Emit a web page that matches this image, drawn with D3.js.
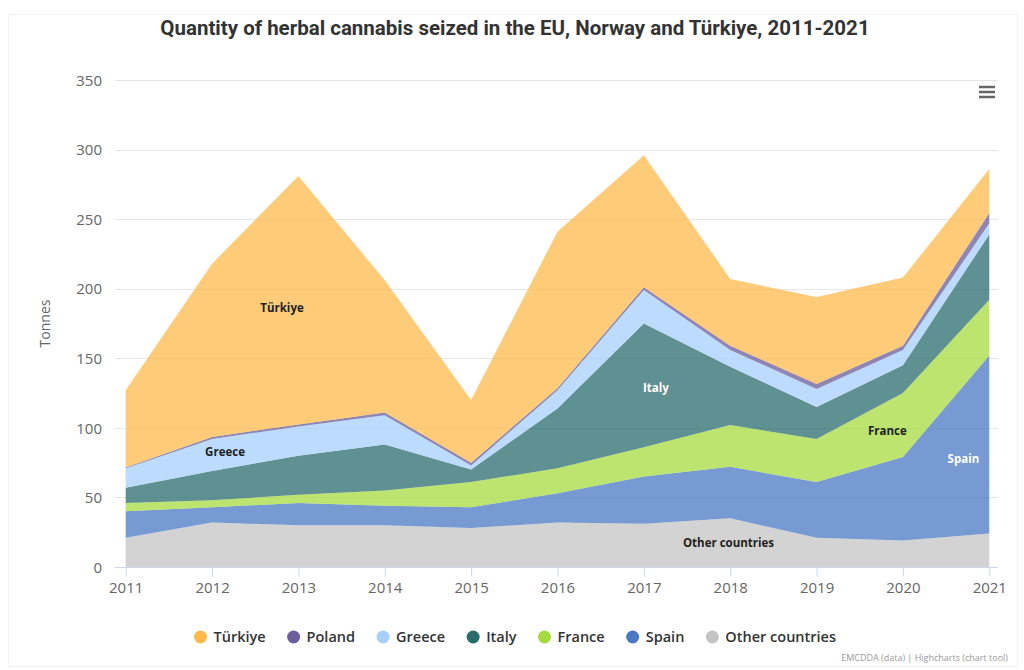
<!DOCTYPE html>
<html>
<head>
<meta charset="utf-8">
<script src="https://cdn.jsdelivr.net/npm/d3@7"></script>
<style>
  html, body { margin: 0; padding: 0; background: #fff; }
  svg { display: block; }
</style>
</head>
<body>
<svg id="chart" width="1024" height="670"></svg>
<script>
// ---- data ----
const years = [2011, 2012, 2013, 2014, 2015, 2016, 2017, 2018, 2019, 2020, 2021];
const turkiye = [55.5, 124.5, 178.5, 95, 45, 112.5, 95, 48, 62.5, 49, 31.5];
const poland  = [0.5, 1.5, 1.5, 2, 2, 1.5, 2, 3, 3.5, 3, 7.5];
const greece  = [14, 23, 21, 21, 3, 13, 24, 12, 13, 11, 8];
const italy   = [11, 21, 28, 33, 9, 43, 89, 42, 23, 20, 47];
const france  = [6, 5, 6, 11, 18, 18, 21, 30, 31, 46, 40];
const spain   = [19, 11, 16, 14, 15, 21, 34, 37, 40, 60, 128];
const other   = [21, 32, 30, 30, 28, 32, 31, 35, 21, 19, 24];

const seriesNames = ["Türkiye", "Poland", "Greece", "Italy", "France", "Spain", "Other countries"];
const seriesValues = [turkiye, poland, greece, italy, france, spain, other];
const seriesColors = ["#fdb94b", "#6a5e9c", "#a7cffb", "#2a6b6e", "#a6db3f", "#4a78c4", "#c4c4c4"];
const yTicks = [0, 50, 100, 150, 200, 250, 300, 350];

// in-chart series labels (year position, value position)
const labelNames  = ["Türkiye", "Greece", "Italy", "France", "Spain", "Other countries"];
const labelYears  = [2012.81, 2012.15, 2017.14, 2019.82, 2020.7, 2017.98];
const labelValues = [186, 82.5, 129, 98, 77.5, 17.5];
const labelColors = ["#222", "#222", "#fff", "#222", "#fff", "#222"];

const titleText = "Quantity of herbal cannabis seized in the EU, Norway and Türkiye, 2011-2021";
const creditsText = "EMCDDA (data) | Highcharts (chart tool)";

// ---- layout ----
const svg = d3.select("#chart");
const plotLeft = 115, plotRight = 998, plotTop = 80, plotBottom = 567;

const x = d3.scaleLinear().domain([2011, 2021]).range([125.7, 989.3]);
const y = d3.scaleLinear().domain([0, 350]).range([plotBottom, plotTop]);

// faint frame
svg.append("rect").attr("x", 8.5).attr("y", 14.5).attr("width", 1009).attr("height", 652)
  .attr("fill", "none").attr("stroke", "#f2f2f2");

// title
svg.append("text").attr("x", 515).attr("y", 35).attr("text-anchor", "middle")
  .attr("font-family", "Roboto, 'Liberation Sans', sans-serif").attr("font-weight", 700)
  .attr("font-size", 20.5).attr("fill", "#333").text(titleText);

// gridlines
svg.append("g").selectAll("line").data(yTicks).join("line")
  .attr("x1", plotLeft).attr("x2", plotRight)
  .attr("y1", d => Math.round(y(d)) + 0.5).attr("y2", d => Math.round(y(d)) + 0.5)
  .attr("stroke", "#e6e6e6").attr("stroke-width", 1);

// stacked areas
const table = years.map((yr, i) => {
  const row = { year: yr };
  seriesNames.forEach((n, k) => row[n] = seriesValues[k][i]);
  return row;
});
const stackKeys = seriesNames.slice().reverse(); // bottom to top
const stacked = d3.stack().keys(stackKeys)(table);
const area = d3.area().x(d => x(d.data.year)).y0(d => y(d[0])).y1(d => y(d[1]));
svg.append("g").selectAll("path").data(stacked).join("path")
  .attr("d", area)
  .attr("fill", d => seriesColors[seriesNames.indexOf(d.key)])
  .attr("fill-opacity", 0.75);

// y axis labels
const yAxis = d3.axisLeft(y).tickValues(yTicks).tickSize(0).tickPadding(0);
const yg = svg.append("g").attr("transform", `translate(${plotLeft - 13},0)`).call(yAxis);
yg.select(".domain").remove();
yg.selectAll("text").attr("font-family", "'Open Sans', sans-serif").attr("font-size", 15)
  .attr("fill", "#666").attr("dy", "0.35em");

// y axis title
svg.append("text").attr("transform", `translate(50,${(plotTop + plotBottom) / 2}) rotate(-90)`)
  .attr("text-anchor", "middle").attr("font-family", "'Open Sans', sans-serif")
  .attr("font-size", 14).attr("fill", "#666").text("Tonnes");

// x axis
const xAxis = d3.axisBottom(x).tickValues(years).tickFormat(d3.format("d")).tickSize(9).tickPadding(6);
const xg = svg.append("g").attr("transform", `translate(0,${plotBottom + 0.5})`).call(xAxis);
xg.select(".domain").attr("d", `M${plotLeft},0H${plotRight}`).attr("stroke", "#ccd6eb");
xg.selectAll(".tick line").attr("stroke", "#ccd6eb");
xg.selectAll("text").attr("font-family", "'Open Sans', sans-serif").attr("font-size", 15)
  .attr("fill", "#666");

// series labels
svg.append("g").selectAll("text").data(labelNames).join("text")
  .attr("x", (d, i) => x(labelYears[i])).attr("y", (d, i) => y(labelValues[i]))
  .attr("text-anchor", "middle").attr("dy", "0.35em")
  .attr("font-family", "'Open Sans', sans-serif").attr("font-weight", 700).attr("font-size", 11.5)
  .attr("fill", (d, i) => labelColors[i]).text(d => d);

// legend
const lg = svg.append("g");
const items = lg.selectAll("g").data(seriesNames).join("g");
items.append("circle").attr("r", 6.5).attr("cy", 0).attr("fill", (d, i) => seriesColors[i]);
items.append("text").attr("x", 13).attr("dy", "0.35em")
  .attr("font-family", "'Open Sans', sans-serif").attr("font-weight", 600).attr("font-size", 14.5)
  .attr("fill", "#333").text(d => d);
const gap = 28;
let cx = 0;
const offsets = [];
items.each(function () {
  offsets.push(cx);
  const w = d3.select(this).select("text").node().getComputedTextLength();
  cx += 13 + w + gap;
});
const totalW = cx - gap + 6.5;
const startX = 515 - totalW / 2 + 6.5;
items.attr("transform", (d, i) => `translate(${startX + offsets[i]},637)`);

// credits
svg.append("text").attr("x", 1008).attr("y", 661).attr("text-anchor", "end")
  .attr("font-family", "'Open Sans', sans-serif").attr("font-size", 9).attr("fill", "#999")
  .text(creditsText);

// menu icon
svg.append("g").selectAll("line").data([0, 1, 2]).join("line")
  .attr("x1", 979).attr("x2", 995)
  .attr("y1", d => 87 + d * 5).attr("y2", d => 87 + d * 5)
  .attr("stroke", "#666").attr("stroke-width", 2.5);
</script>
</body>
</html>
